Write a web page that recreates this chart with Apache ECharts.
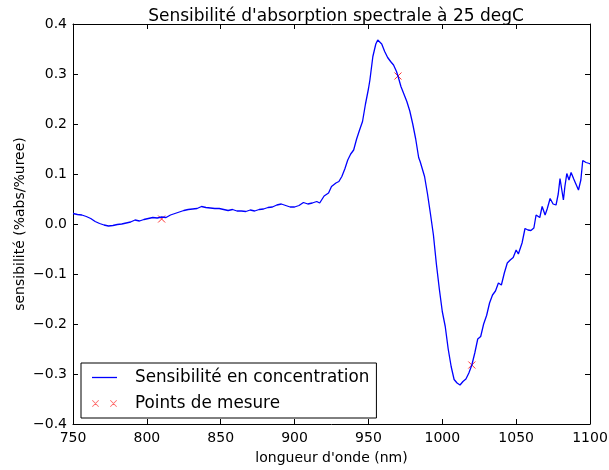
<!DOCTYPE html>
<html lang="fr">
<head>
    <meta charset="UTF-8">
    <title>Sensibilité d'absorption</title>
    <script src="https://cdn.jsdelivr.net/npm/echarts@6/dist/echarts.min.js"></script>
    <style>
        html, body { margin: 0; padding: 0; background: #fff; }
        #chart { width: 609px; height: 470px; }
    </style>
</head>
<body>
    <div id="chart"></div>
    <script>
        // courbe de sensibilité
        var wavelength = [
            750, 753, 756, 759, 762, 765, 768, 771, 774, 777, 780, 783, 786, 789, 792, 795, 798,
            801, 804, 807, 810, 813, 816, 819, 822, 825, 828, 831, 834, 837, 840, 843, 846, 849,
            852, 855, 858, 861, 864, 867, 870, 873, 876, 879, 882, 885, 888, 891, 894, 897, 900,
            903, 906, 909, 912, 915, 917, 920, 923, 925, 928, 930, 932, 934, 936, 938, 940, 942,
            944, 946, 948, 950, 951, 953, 955, 956.3, 957, 959, 961, 963, 965, 967, 969, 970,
            972, 974, 976, 978, 980, 982, 984, 985, 986, 988, 990, 992, 994, 996, 998, 1000,
            1002, 1004, 1006, 1008, 1010, 1012, 1014, 1016, 1018, 1020, 1022, 1024, 1026, 1028,
            1030, 1032, 1034, 1036, 1038, 1040, 1042, 1044, 1046, 1048, 1050, 1051.5, 1054,
            1056, 1058, 1060, 1062, 1063.5, 1066, 1067.6, 1069.6, 1071, 1073, 1075, 1077,
            1078.5, 1079.7, 1082, 1083, 1084.3, 1085.8, 1087.2, 1089, 1090, 1092.2, 1093.8,
            1095.1, 1097.3, 1099.6, 1100
        ];
        var sensitivity = [
            0.021, 0.019, 0.018, 0.015, 0.011, 0.005, 0.001, -0.002, -0.004, -0.003, -0.001, 0.000, 0.002, 0.004, 0.008, 0.006, 0.009,
            0.011, 0.013, 0.012, 0.014, 0.013, 0.018, 0.021, 0.024, 0.027, 0.029, 0.030, 0.031, 0.035, 0.033, 0.032, 0.031, 0.031,
            0.029, 0.027, 0.029, 0.026, 0.026, 0.025, 0.028, 0.026, 0.029, 0.030, 0.033, 0.034, 0.038, 0.040, 0.037, 0.034, 0.034,
            0.037, 0.043, 0.040, 0.042, 0.045, 0.042, 0.056, 0.062, 0.075, 0.082, 0.085, 0.095, 0.110, 0.128, 0.140, 0.148, 0.170,
            0.188, 0.205, 0.240, 0.270, 0.288, 0.335, 0.360, 0.368, 0.366, 0.360, 0.345, 0.333, 0.325, 0.318, 0.305, 0.296,
            0.275, 0.260, 0.245, 0.226, 0.200, 0.170, 0.133, 0.125, 0.122, 0.095, 0.060, 0.020, -0.022, -0.080, -0.130, -0.175,
            -0.205, -0.250, -0.285, -0.311, -0.318, -0.322, -0.315, -0.310, -0.298, -0.282, -0.258, -0.230, -0.225, -0.200,
            -0.183, -0.158, -0.142, -0.134, -0.118, -0.122, -0.098, -0.078, -0.072, -0.067, -0.052, -0.060, -0.038,
            -0.009, -0.012, -0.013, -0.008, 0.018, 0.013, 0.035, 0.018, 0.030, 0.051, 0.040, 0.038,
            0.060, 0.091, 0.048, 0.075, 0.101, 0.088, 0.103, 0.090, 0.083, 0.068, 0.088,
            0.127, 0.123, 0.121, 0.120
        ];

        // points de mesure
        var pointsX = [810, 970, 1020];
        var pointsY = [0.010, 0.296, -0.282];

        var xTicks = [750, 800, 850, 900, 950, 1000, 1050, 1100];
        var yTicks = [-0.4, -0.3, -0.2, -0.1, 0.0, 0.1, 0.2, 0.3, 0.4];

        var font = 'DejaVu Sans';
        var lineData = wavelength.map(function (x, i) { return [x, sensitivity[i]]; });
        var pointData = pointsX.map(function (x, i) { return [x, pointsY[i]]; });

        var axisCommon = {
            axisLine: { show: true, onZero: false, lineStyle: { color: '#000', width: 1 } },
            axisTick: { show: true, inside: true, length: 5, lineStyle: { color: '#000' } },
            splitLine: { show: false }
        };

        function xAxis(pos, labels) {
            return Object.assign({
                type: 'value', position: pos, min: xTicks[0], max: xTicks[xTicks.length - 1], interval: 50,
                axisLabel: {
                    show: labels, color: '#000', fontFamily: font, fontSize: 14, margin: 7,
                    formatter: function (v) { return String(v); }
                }
            }, axisCommon);
        }
        function yAxis(pos, labels) {
            return Object.assign({
                type: 'value', position: pos, min: yTicks[0], max: yTicks[yTicks.length - 1], interval: 0.1,
                axisLabel: {
                    show: labels, color: '#000', fontFamily: font, fontSize: 14, margin: 6,
                    formatter: function (v) { return v.toFixed(1).replace('-', '\u2212'); }
                }
            }, axisCommon);
        }

        var xBottom = xAxis('bottom', true);
        xBottom.name = "longueur d'onde (nm)";
        xBottom.nameLocation = 'middle';
        xBottom.nameGap = 27;
        xBottom.nameMoveOverlap = false;
        xBottom.nameTextStyle = { color: '#000', fontFamily: font, fontSize: 14 };

        var yLeft = yAxis('left', true);
        yLeft.name = 'sensibilité (%abs/%uree)';
        yLeft.nameLocation = 'middle';
        yLeft.nameGap = 46;
        yLeft.nameMoveOverlap = false;
        yLeft.nameTextStyle = { color: '#000', fontFamily: font, fontSize: 14 };

        // croix rouge pleine (deux traits fins), deux fois pour la légende
        var crossPair = 'path://M0,0.6L0.6,0L7,6.4L6.4,7Z M6.4,0L7,0.6L0.6,7L0,6.4Z ' +
            'M18,0.6L18.6,0L25,6.4L24.4,7Z M24.4,0L25,0.6L18.6,7L18,6.4Z';

        var chart = echarts.init(document.getElementById('chart'));
        chart.setOption({
            backgroundColor: '#fff',
            animation: false,
            title: {
                text: "Sensibilité d'absorption spectrale à 25 degC",
                left: 331, top: 3, textAlign: 'center',
                textStyle: { color: '#000', fontFamily: font, fontSize: 17, fontWeight: 'normal' }
            },
            grid: { left: 73, right: 19, top: 24, bottom: 46, outerBoundsMode: 'none' },
            xAxis: [xBottom, xAxis('top', false)],
            yAxis: [yLeft, yAxis('right', false)],
            legend: {
                orient: 'vertical', left: 81, top: 363,
                borderColor: '#000', borderWidth: 1, borderRadius: 0,
                padding: [6, 7, 6, 11], itemGap: 9,
                itemWidth: 25, itemHeight: 14,
                textStyle: { color: '#000', fontFamily: font, fontSize: 16.8, padding: [0, 0, 0, 13] },
                data: [
                    {
                        name: 'Sensibilité en concentration',
                        icon: 'path://M0,0L25,0L25,1.3L0,1.3Z',
                        itemStyle: { color: '#0000ff', borderWidth: 0 }
                    },
                    {
                        name: 'Points de mesure',
                        icon: crossPair,
                        itemStyle: { color: '#ff3030', borderWidth: 0, opacity: 0.75 }
                    }
                ]
            },
            series: [
                {
                    name: 'Sensibilité en concentration',
                    type: 'line',
                    data: lineData,
                    symbol: 'none',
                    lineStyle: { color: '#0000ff', width: 1.3 },
                    itemStyle: { color: '#0000ff' }
                },
                {
                    name: 'Points de mesure',
                    type: 'scatter',
                    data: pointData,
                    symbol: 'path://M0,0L10,10M10,0L0,10',
                    symbolSize: 7,
                    itemStyle: { color: 'none', borderColor: '#ff0000', borderWidth: 1, opacity: 0.8 }
                }
            ]
        });
    </script>
</body>
</html>
